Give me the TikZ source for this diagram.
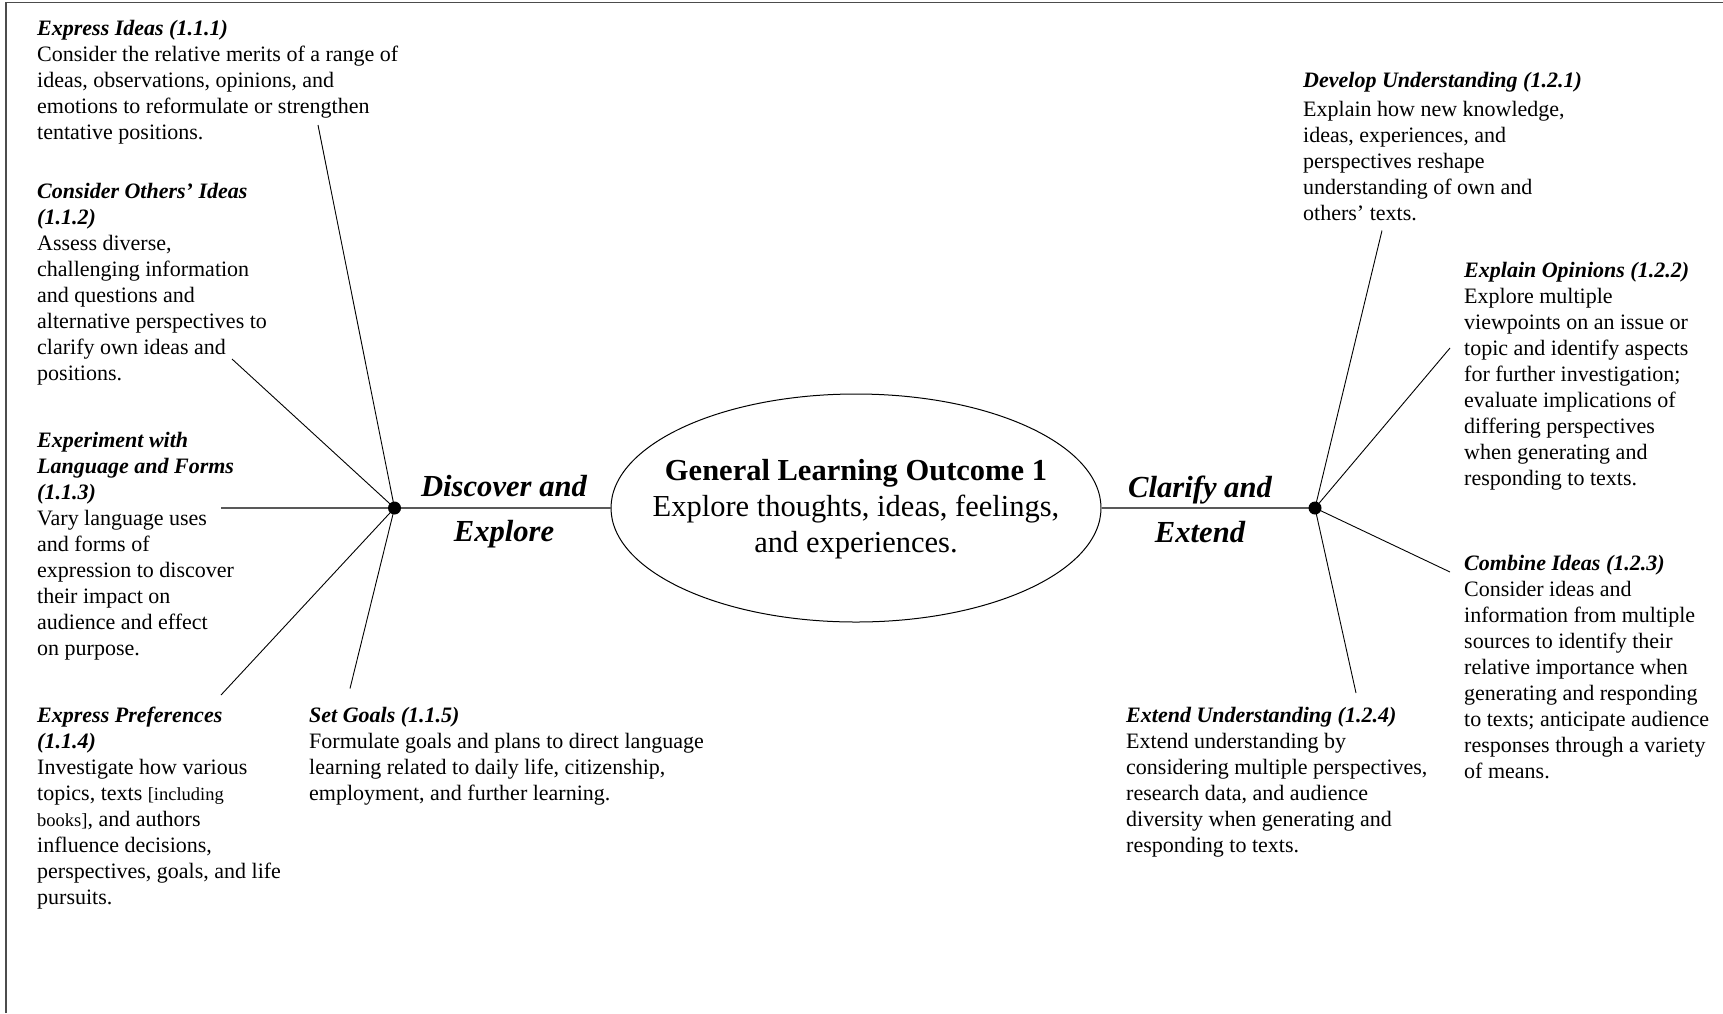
\documentclass[tikz,border=0pt]{standalone}
\usepackage{fontspec}
\setmainfont{Liberation Serif}
\usetikzlibrary{shapes.geometric}

\tikzset{
  blurb/.style={anchor=north west, inner sep=0pt, align=left,
    font=\fontsize{22}{26}\selectfont},
  strand/.style={anchor=north, inner sep=0pt, align=center,
    font=\fontsize{30.6}{45}\selectfont\bfseries\itshape},
  hub/.style={circle, fill=black, draw=none, inner sep=0pt, minimum size=13pt},
  spoke/.style={draw=black, line width=0.9pt},
  axisline/.style={draw=black!65, line width=1.6pt},
  pageframe/.style={draw=black!70, line width=1.6pt},
  outcome/.style={ellipse, draw=black, line width=1pt, inner sep=0pt,
    minimum width=490pt, minimum height=228pt},
}
\newcommand{\hd}[1]{\textbf{\textit{#1}}}
\newcommand{\firstline}{\rule{0pt}{20pt}}
\newcommand{\smalltxt}[1]{{\fontsize{18.5}{26}\selectfont #1}}

\begin{document}
\begin{tikzpicture}[x=1pt,y=-1pt]
\useasboundingbox (0,0) rectangle (1723,1013);

% partial page frame
\draw[pageframe] (6,1013) -- (6,2.5) -- (1723,2.5);

% hubs and the central outcome
\coordinate (hubL) at (394.5,508);
\coordinate (hubR) at (1315,508);
\node[outcome] (glo) at (856,508) {};
\node[inner sep=0pt, align=center, font=\fontsize{30.5}{36}\selectfont] (glotext) at (856,509.5)
  {\textbf{General Learning Outcome 1}\\Explore thoughts, ideas, feelings,\\and experiences.};

% strand labels
\node[strand] (discover) at (504,475.5) {\firstline Discover and\\Explore};
\node[strand] (clarify) at (1200,475.5) {\firstline Clarify and\\Extend};

% free ends of the spokes
\coordinate (eL1) at (318,125);
\coordinate (eL2) at (232,359);
\coordinate (eL3) at (221,508);
\coordinate (eL4) at (221,695);
\coordinate (eL5) at (350,688.5);
\coordinate (eR1) at (1382,230.5);
\coordinate (eR2) at (1450,348);
\coordinate (eR3) at (1450,572);
\coordinate (eR4) at (1356,693);

% connectors
\draw[axisline] (eL3) -- (hubL) -- (glo.west);
\draw[axisline] (glo.east) -- (hubR);
\foreach \e in {eL1,eL2,eL4,eL5} \draw[spoke] (hubL) -- (\e);
\foreach \e in {eR1,eR2,eR3,eR4} \draw[spoke] (hubR) -- (\e);

\node[hub] (dotL) at (hubL) {};
\node[hub] (dotR) at (hubR) {};

% specific learning outcomes, strand 1.1
\node[blurb] (o111) at (37,15) {\firstline\hd{Express Ideas (1.1.1)}\\
Consider the relative merits of a range of\\
ideas, observations, opinions, and\\
emotions to reformulate or strengthen\\
tentative positions.};

\node[blurb] (o112) at (37,178) {\firstline\hd{Consider Others’ Ideas}\\
\hd{(1.1.2)}\\
Assess diverse,\\
challenging information\\
and questions and\\
alternative perspectives to\\
clarify own ideas and\\
positions.};

\node[blurb] (o113) at (37,427) {\firstline\hd{Experiment with}\\
\hd{Language and Forms}\\
\hd{(1.1.3)}\\
Vary language uses\\
and forms of\\
expression to discover\\
their impact on\\
audience and effect\\
on purpose.};

\node[blurb] (o114) at (37,702) {\firstline\hd{Express Preferences}\\
\hd{(1.1.4)}\\
Investigate how various\\
topics, texts \smalltxt{[including}\\
\smalltxt{books]}, and authors\\
influence decisions,\\
perspectives, goals, and life\\
pursuits.};

\node[blurb] (o115) at (309,702) {\firstline\hd{Set Goals (1.1.5)}\\
Formulate goals and plans to direct language\\
learning related to daily life, citizenship,\\
employment, and further learning.};

% specific learning outcomes, strand 1.2
\node[blurb] (o121) at (1303,67) {\firstline\hd{Develop Understanding (1.2.1)}\\[3.5pt]
Explain how new knowledge,\\
ideas, experiences, and\\
perspectives reshape\\
understanding of own and\\
others’ texts.};

\node[blurb] (o122) at (1464,257) {\firstline\hd{Explain Opinions (1.2.2)}\\
Explore multiple\\
viewpoints on an issue or\\
topic and identify aspects\\
for further investigation;\\
evaluate implications of\\
differing perspectives\\
when generating and\\
responding to texts.};

\node[blurb] (o123) at (1464,550) {\firstline\hd{Combine Ideas (1.2.3)}\\
Consider ideas and\\
information from multiple\\
sources to identify their\\
relative importance when\\
generating and responding\\
to texts; anticipate audience\\
responses through a variety\\
of means.};

\node[blurb] (o124) at (1126,702) {\firstline\hd{Extend Understanding (1.2.4)}\\
Extend understanding by\\
considering multiple perspectives,\\
research data, and audience\\
diversity when generating and\\
responding to texts.};
\end{tikzpicture}
\end{document}
